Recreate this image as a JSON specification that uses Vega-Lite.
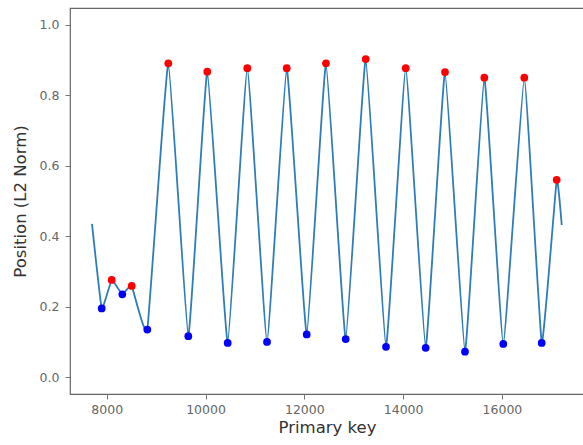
{
  "$schema": "https://vega.github.io/schema/vega-lite/v6.json",
  "width": 514,
  "height": 386,
  "autosize": {"type": "none"},
  "padding": {"left": 70, "top": 8, "right": 0, "bottom": 51},
  "background": "white",
  "config": {
    "view": {"stroke": "#666666", "strokeWidth": 1.2},
    "font": "DejaVu Sans",
    "axis": {
      "grid": false,
      "domain": false,
      "tickColor": "#777777",
      "tickSize": 5,
      "tickWidth": 1,
      "labelColor": "#666666",
      "labelFontSize": 12.5,
      "labelFont": "DejaVu Sans",
      "titleFont": "DejaVu Sans",
      "titleFontSize": 16.5,
      "titleFontWeight": "normal",
      "titleColor": "#333333"
    }
  },
  "data": {
    "values": [
      {"key": 7702, "value": 0.435, "type": "end"},
      {"key": 7899, "value": 0.195, "type": "trough"},
      {"key": 8101, "value": 0.276, "type": "peak"},
      {"key": 8316, "value": 0.235, "type": "trough"},
      {"key": 8506, "value": 0.259, "type": "peak"},
      {"key": 8822, "value": 0.135, "type": "trough"},
      {"key": 9247, "value": 0.891, "type": "peak"},
      {"key": 9652, "value": 0.116, "type": "trough"},
      {"key": 10036, "value": 0.867, "type": "peak"},
      {"key": 10449, "value": 0.097, "type": "trough"},
      {"key": 10846, "value": 0.877, "type": "peak"},
      {"key": 11245, "value": 0.100, "type": "trough"},
      {"key": 11644, "value": 0.877, "type": "peak"},
      {"key": 12049, "value": 0.121, "type": "trough"},
      {"key": 12439, "value": 0.891, "type": "peak"},
      {"key": 12838, "value": 0.108, "type": "trough"},
      {"key": 13243, "value": 0.903, "type": "peak"},
      {"key": 13654, "value": 0.086, "type": "trough"},
      {"key": 14053, "value": 0.877, "type": "peak"},
      {"key": 14457, "value": 0.083, "type": "trough"},
      {"key": 14848, "value": 0.866, "type": "peak"},
      {"key": 15253, "value": 0.072, "type": "trough"},
      {"key": 15644, "value": 0.850, "type": "peak"},
      {"key": 16028, "value": 0.094, "type": "trough"},
      {"key": 16453, "value": 0.850, "type": "peak"},
      {"key": 16806, "value": 0.097, "type": "trough"},
      {"key": 17109, "value": 0.560, "type": "peak"},
      {"key": 17211, "value": 0.432, "type": "end"}
    ]
  },
  "encoding": {
    "x": {
      "field": "key",
      "type": "quantitative",
      "scale": {"domain": [7257, 17662], "nice": false, "zero": false},
      "axis": {"values": [8000, 10000, 12000, 14000, 16000], "format": "d", "title": "Primary key", "labelPadding": 4, "titlePadding": 4}
    },
    "y": {
      "field": "value",
      "type": "quantitative",
      "scale": {"domain": [-0.048, 1.048], "nice": false, "zero": false},
      "axis": {"values": [0, 0.2, 0.4, 0.6, 0.8, 1.0], "format": ".1f", "title": "Position (L2 Norm)", "labelPadding": 6, "titlePadding": 11}
    }
  },
  "layer": [
    {
      "mark": {"type": "line", "interpolate": "cardinal", "tension": 0.7, "color": "#2f7db8", "strokeWidth": 1.8}
    },
    {
      "transform": [{"filter": "datum.type !== 'end'"}],
      "mark": {"type": "circle", "size": 60, "opacity": 1},
      "encoding": {
        "color": {
          "field": "type",
          "type": "nominal",
          "scale": {"domain": ["peak", "trough"], "range": ["#ff0000", "#0000ff"]},
          "legend": null
        }
      }
    }
  ]
}
